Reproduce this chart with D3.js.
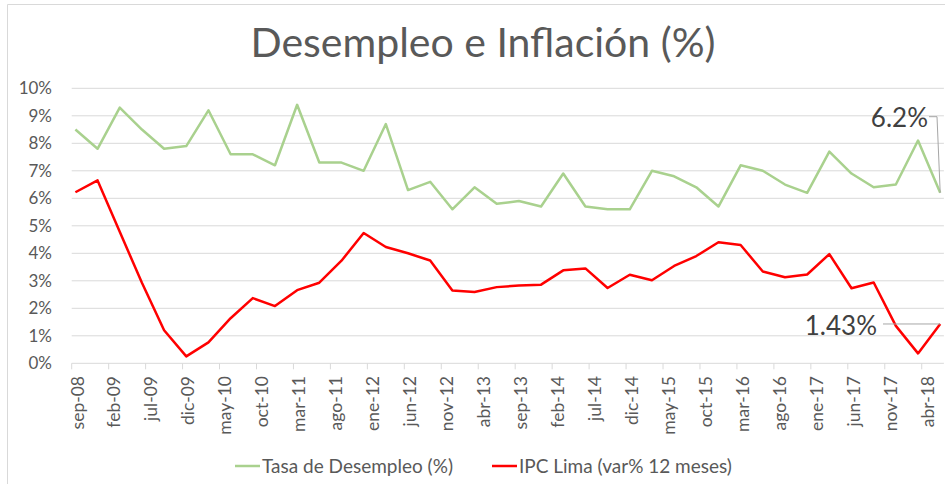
<!DOCTYPE html>
<html>
<head>
<meta charset="utf-8">
<script src="https://cdn.jsdelivr.net/npm/d3@7"></script>
<style>
  body { margin: 0; background: #fff; }
  text { font-family: Lato, "Open Sans", sans-serif; fill: #595959; }
</style>
</head>
<body>
<div class="chart"></div>
<script>
var svgWidth = 945;
var svgHeight = 484;

// quarterly observations
var periodos = ["sep-08", "dic-08", "mar-09", "jun-09", "sep-09", "dic-09", "mar-10", "jun-10",
    "sep-10", "dic-10", "mar-11", "jun-11", "sep-11", "dic-11", "mar-12", "jun-12",
    "sep-12", "dic-12", "mar-13", "jun-13", "sep-13", "dic-13", "mar-14", "jun-14",
    "sep-14", "dic-14", "mar-15", "jun-15", "sep-15", "dic-15", "mar-16", "jun-16",
    "sep-16", "dic-16", "mar-17", "jun-17", "sep-17", "dic-17", "mar-18", "jun-18"];

var desempleo = [8.5, 7.8, 9.3, 8.5, 7.8, 7.9, 9.2, 7.6, 7.6, 7.2, 9.4, 7.3, 7.3, 7.0, 8.7, 6.3,
    6.6, 5.6, 6.4, 5.8, 5.9, 5.7, 6.9, 5.7, 5.6, 5.6, 7.0, 6.8, 6.4, 5.7, 7.2, 7.0,
    6.5, 6.2, 7.7, 6.9, 6.4, 6.5, 8.1, 6.2];

var ipcLima = [6.22, 6.65, 4.78, 2.93, 1.2, 0.25, 0.76, 1.64, 2.37, 2.08, 2.66, 2.93, 3.73, 4.74, 4.23, 4.0,
    3.74, 2.65, 2.59, 2.77, 2.83, 2.86, 3.38, 3.45, 2.74, 3.22, 3.02, 3.54, 3.9, 4.4, 4.3, 3.34,
    3.13, 3.23, 3.97, 2.73, 2.94, 1.36, 0.36, 1.43];

// month labels shown on the axis
var etiquetas = ["sep-08", "feb-09", "jul-09", "dic-09", "may-10", "oct-10", "mar-11", "ago-11",
    "ene-12", "jun-12", "nov-12", "abr-13", "sep-13", "feb-14", "jul-14", "dic-14",
    "may-15", "oct-15", "mar-16", "ago-16", "ene-17", "jun-17", "nov-17", "abr-18"];

var yTicks = [0, 1, 2, 3, 4, 5, 6, 7, 8, 9, 10];

var meses = ["ene", "feb", "mar", "abr", "may", "jun", "jul", "ago", "sep", "oct", "nov", "dic"];
function mesIdx(s) {
    var p = s.split("-");
    return (+p[1]) * 12 + meses.indexOf(p[0]);
}

var svg = d3.select(".chart")
    .append("svg")
    .attr("width", svgWidth)
    .attr("height", svgHeight);

// chart area border
svg.append("path")
    .attr("d", "M7.5,490 V4.5 H950")
    .attr("fill", "none")
    .attr("stroke", "#d9d9d9");

var x = d3.scaleLinear()
    .domain([mesIdx("sep-08") - 0.5, mesIdx("jun-18") + 0.5])
    .range([71.7, 943.9]);

var y = d3.scaleLinear()
    .domain([0, 10])
    .range([363.3, 88.3]);

// gridlines
svg.append("g")
    .selectAll("line")
    .data(yTicks.slice(1))
    .enter()
    .append("line")
    .attr("x1", x.range()[0])
    .attr("x2", x.range()[1])
    .attr("y1", d => y(d))
    .attr("y2", d => y(d))
    .attr("stroke", "#d9d9d9")
    .attr("stroke-width", 1);

// y labels
svg.append("g")
    .selectAll("text")
    .data(yTicks)
    .enter()
    .append("text")
    .attr("x", 52)
    .attr("y", d => y(d))
    .attr("dy", "0.36em")
    .attr("text-anchor", "end")
    .style("font-size", "17px")
    .text(d => d + "%");

// x axis line + ticks
svg.append("line")
    .attr("x1", x.range()[0])
    .attr("x2", x.range()[1])
    .attr("y1", y(0))
    .attr("y2", y(0))
    .attr("stroke", "#d9d9d9");

svg.append("g")
    .selectAll("line")
    .data(etiquetas)
    .enter()
    .append("line")
    .attr("x1", d => x(mesIdx(d) - 0.5))
    .attr("x2", d => x(mesIdx(d) - 0.5))
    .attr("y1", y(0))
    .attr("y2", y(0) + 6)
    .attr("stroke", "#d9d9d9");

svg.append("g")
    .selectAll("text")
    .data(etiquetas)
    .enter()
    .append("text")
    .attr("transform", d => `translate(${x(mesIdx(d)) + 2}, 376) rotate(-90)`)
    .attr("dy", "0.35em")
    .attr("text-anchor", "end")
    .style("font-size", "17.5px")
    .text(d => d);

// lines
var linea = function (vals) {
    return d3.line()
        .x((d, i) => x(mesIdx(periodos[i])))
        .y(d => y(d))(vals);
};

svg.append("path")
    .attr("d", linea(desempleo))
    .attr("fill", "none")
    .attr("stroke", "#a9d18e")
    .attr("stroke-width", 2.5)
    .attr("stroke-linejoin", "round");

svg.append("path")
    .attr("d", linea(ipcLima))
    .attr("fill", "none")
    .attr("stroke", "#ff0000")
    .attr("stroke-width", 2.5)
    .attr("stroke-linejoin", "round");

// data labels for the last point
var n = periodos.length - 1;
var xLast = x(mesIdx(periodos[n]));

svg.append("path")
    .attr("d", `M929,116.7 H937 L${xLast},${y(desempleo[n])}`)
    .attr("fill", "none")
    .attr("stroke", "#a6a6a6");
svg.append("text")
    .attr("x", 928)
    .attr("y", 126.5)
    .attr("text-anchor", "end")
    .style("font-size", "26px")
    .style("fill", "#404040")
    .text(desempleo[n].toFixed(1) + "%");

svg.append("path")
    .attr("d", `M883,${y(ipcLima[n])} H${xLast}`)
    .attr("fill", "none")
    .attr("stroke", "#a6a6a6");
svg.append("text")
    .attr("x", 877)
    .attr("y", 335)
    .attr("text-anchor", "end")
    .style("font-size", "26px")
    .style("fill", "#404040")
    .text(ipcLima[n].toFixed(2) + "%");

// title
svg.append("text")
    .attr("x", 483)
    .attr("y", 57)
    .attr("text-anchor", "middle")
    .style("font-size", "41px")
    .text("Desempleo e Inflación (%)");

// legend
var leyenda = [
    { nombre: "Tasa de Desempleo (%)", color: "#a9d18e", x: 235 },
    { nombre: "IPC Lima (var% 12 meses)", color: "#ff0000", x: 492 }
];
var lg = svg.append("g")
    .selectAll("g")
    .data(leyenda)
    .enter()
    .append("g")
    .attr("transform", d => `translate(${d.x}, 466)`);
lg.append("line")
    .attr("x1", 0)
    .attr("x2", 25)
    .attr("stroke", d => d.color)
    .attr("stroke-width", 2.5);
lg.append("text")
    .attr("x", 27)
    .attr("dy", "0.35em")
    .style("font-size", "19px")
    .text(d => d.nombre);
</script>
</body>
</html>
